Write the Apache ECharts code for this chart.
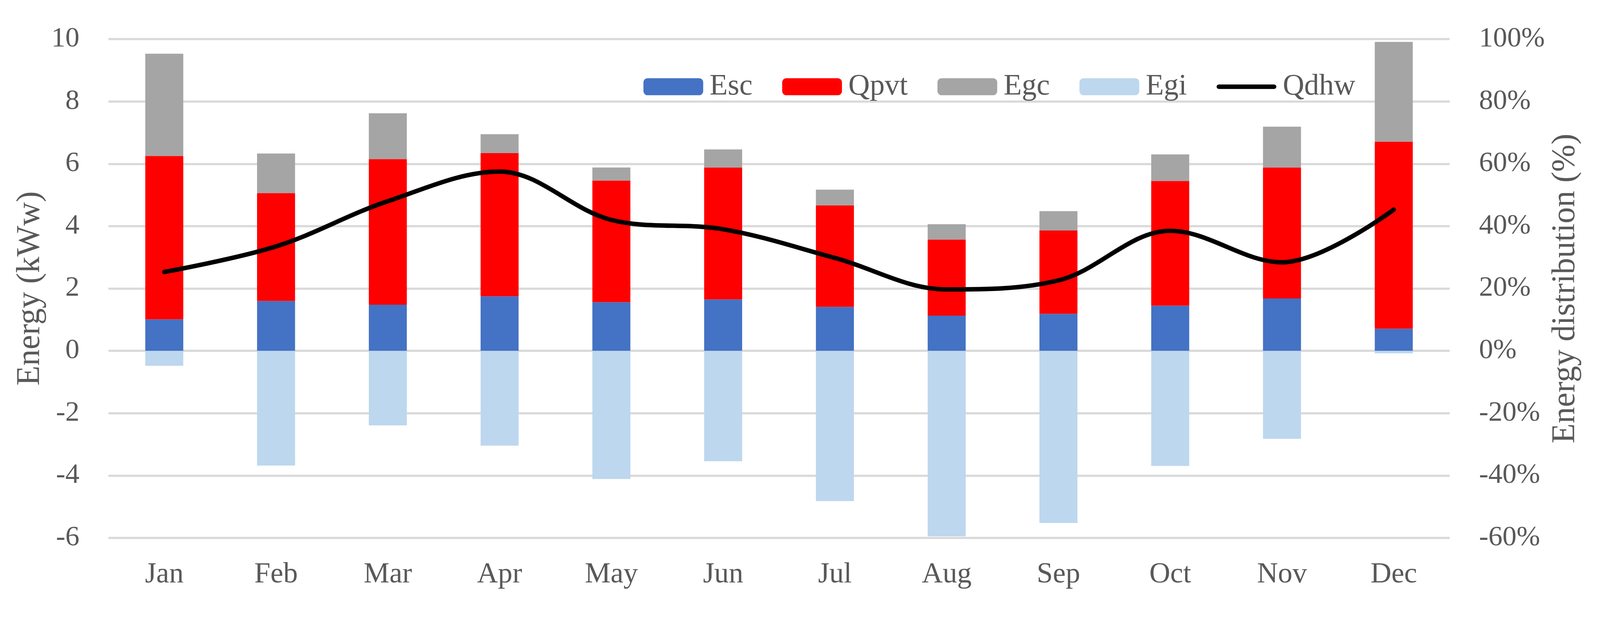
<!DOCTYPE html>
<html>
<head>
<meta charset="utf-8">
<script src="https://cdn.jsdelivr.net/npm/echarts@6/dist/echarts.min.js"></script>
<style>
html,body{margin:0;padding:0;background:#fff;overflow:hidden;}
#chart{position:absolute;left:0;top:0;}
</style>
</head>
<body>
<div id="chart"></div>
<script>
const months = ['Jan','Feb','Mar','Apr','May','Jun','Jul','Aug','Sep','Oct','Nov','Dec'];
const esc  = [1.01, 1.60, 1.48, 1.75, 1.56, 1.65, 1.41, 1.13, 1.19, 1.45, 1.68, 0.71];
const qpvt = [5.24, 3.46, 4.67, 4.59, 3.90, 4.23, 3.26, 2.44, 2.67, 4.00, 4.20, 6.00];
const egc  = [3.28, 1.27, 1.47, 0.61, 0.42, 0.58, 0.50, 0.49, 0.62, 0.85, 1.31, 3.20];
const egi  = [-0.48, -3.68, -2.39, -3.04, -4.11, -3.54, -4.82, -5.95, -5.52, -3.69, -2.82, -0.08];
const qdhw = [25.3, 33.5, 48.0, 57.5, 42.0, 39.0, 29.8, 19.7, 22.6, 38.5, 28.4, 45.3];

const FONT = 'Liberation Serif';
const TXT = '#595959';

const W = window.innerWidth || 4310;
const H = window.innerHeight || 1582;
const kx = W / 4310, ky = H / 1582, kf = Math.min(kx, ky);
const el = document.getElementById('chart');
el.style.width = W + 'px';
el.style.height = H + 'px';

const chart = echarts.init(el, null, {renderer: 'canvas', width: W, height: H});

function bar(name, data, color) {
  return {
    name: name, type: 'bar', stack: 'e', data: data,
    barWidth: '34%', itemStyle: {color: color}, emphasis: {disabled: true}
  };
}

const lineIcon = 'path://M6.5,0 L165.5,0 A6.5,6.5 0 0 1 165.5,13 L6.5,13 A6.5,6.5 0 0 1 6.5,0 Z';

chart.setOption({
  animation: false,
  backgroundColor: '#ffffff',
  grid: {left: 292 * kx, right: 405 * kx, top: 100 * ky, bottom: 205 * ky, containLabel: false},
  legend: {
    left: 1728 * kx, top: 179 * ky,
    itemWidth: 161 * kf, itemHeight: 46 * kf, itemGap: 80 * kx,
    textStyle: {fontFamily: FONT, fontSize: 80 * kf, color: TXT, padding: [0, 0, 0, 12 * kf]},
    data: ['Esc', 'Qpvt', 'Egc', 'Egi', {name: 'Qdhw', icon: lineIcon}]
  },
  xAxis: {
    type: 'category', data: months,
    axisLine: {show: false, onZero: false},
    axisTick: {show: false},
    axisLabel: {fontFamily: FONT, fontSize: 78 * kf, color: TXT, margin: 58 * ky}
  },
  yAxis: [
    {
      type: 'value', min: -6, max: 10, interval: 2,
      name: 'Energy (kWw)', nameLocation: 'middle', nameGap: 160 * kx,
      nameTextStyle: {fontFamily: FONT, fontSize: 88 * kf, color: TXT},
      axisLine: {show: false}, axisTick: {show: false},
      axisLabel: {fontFamily: FONT, fontSize: 76 * kf, color: TXT, margin: 78 * kx},
      splitLine: {show: true, lineStyle: {color: '#D9D9D9', width: 6 * kf}}
    },
    {
      type: 'value', min: -60, max: 100, interval: 20, position: 'right',
      name: 'Energy distribution (%)', nameLocation: 'middle', nameGap: 250 * kx,
      nameTextStyle: {fontFamily: FONT, fontSize: 88 * kf, color: TXT},
      axisLine: {show: false}, axisTick: {show: false},
      axisLabel: {fontFamily: FONT, fontSize: 76 * kf, color: TXT, margin: 79 * kx, formatter: '{value}%'},
      splitLine: {show: false}
    }
  ],
  series: [
    bar('Esc', esc, '#4472C4'),
    bar('Qpvt', qpvt, '#FF0000'),
    bar('Egc', egc, '#A5A5A5'),
    bar('Egi', egi, '#BDD7EE'),
    {
      name: 'Qdhw', type: 'line', yAxisIndex: 1, data: qdhw,
      smooth: 0.35, symbol: 'none', showSymbol: false, z: 10,
      lineStyle: {color: '#000000', width: 12 * kf, cap: 'round', join: 'round'},
      itemStyle: {color: '#000000'},
      emphasis: {disabled: true}
    }
  ]
});
</script>
</body>
</html>
